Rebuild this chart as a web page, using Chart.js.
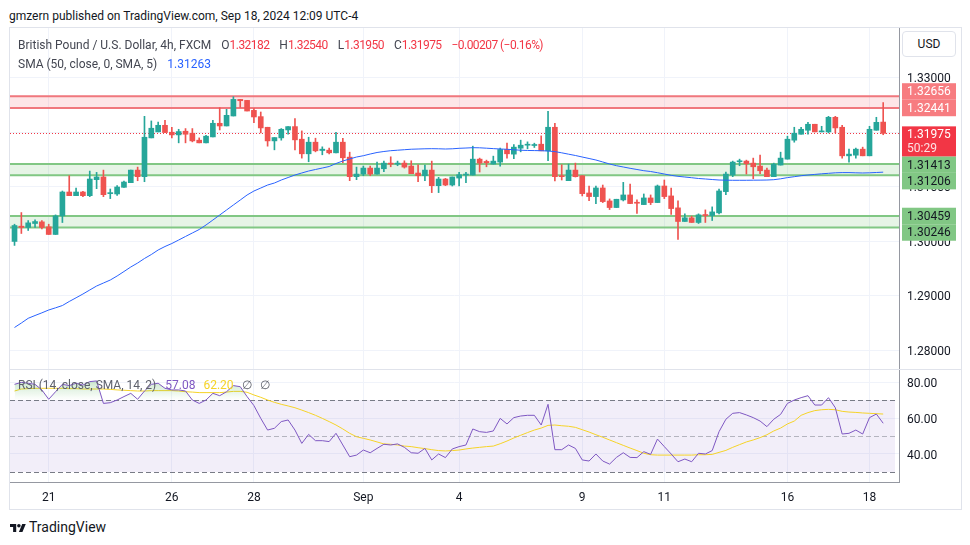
<!DOCTYPE html>
<html><head><meta charset="utf-8">
<script src="https://cdn.jsdelivr.net/npm/chart.js@4.4.1/dist/chart.umd.min.js"></script>
<style>
html,body{margin:0;padding:0;background:#fff;width:970px;height:545px;overflow:hidden;font-family:Roboto,"Noto Sans",sans-serif;color:#131722;}
.abs{position:absolute;}
#hdr{left:9px;top:7px;font-size:12px;line-height:18px;color:#131722;white-space:nowrap;}
#frame{left:9px;top:27px;width:953px;height:483px;border:1px solid #e0e3eb;box-sizing:border-box;}
#sep{left:10px;top:369px;width:951px;height:1px;background:#e0e3eb;}
#legend{left:18px;top:36px;font-size:12px;line-height:18.5px;color:#434651;white-space:nowrap;}
#legend .r{color:#f23645;letter-spacing:-0.55px;} #legend .b{color:#2962ff;}
#legend .g{margin-left:10px;}
#rsileg{left:18px;top:376px;font-size:12px;line-height:18px;color:#5d606b;white-space:nowrap;}
#usd{left:902px;top:31px;width:54px;height:26px;border:1px solid #e0e3eb;border-radius:4px;box-sizing:border-box;font-size:12px;line-height:24px;text-align:center;color:#131722;background:#fff;}
#logo{left:10px;top:518px;font-size:14px;line-height:18px;color:#131722;white-space:nowrap;display:flex;align-items:center;}
</style></head>
<body>
<div id="hdr" class="abs">gmzern published on TradingView.com, Sep 18, 2024 12:09 UTC-4</div>
<div id="frame" class="abs"></div>
<div class="abs" style="left:10px;top:28px;"><canvas id="main" width="951" height="341" style="width:951px;height:341px;display:block"></canvas></div>
<div id="sep" class="abs"></div>
<div class="abs" style="left:10px;top:370px;"><canvas id="rsi" width="951" height="139" style="width:951px;height:139px;display:block"></canvas></div>
<div id="legend" class="abs">
  <div>British Pound / U.S. Dollar, 4h, FXCM<span class="g">O<span class="r">1.32182</span></span><span class="g">H<span class="r">1.32540</span></span><span class="g">L<span class="r">1.31950</span></span><span class="g">C<span class="r">1.31975</span></span><span class="g r">&minus;0.00207 (&minus;0.16%)</span></div>
  <div>SMA (50, close, 0, SMA, 5)<span class="g b">1.31263</span></div>
</div>
<div id="rsileg" class="abs">RSI (14, close, SMA, 14, 2)<span style="margin-left:9px;color:#7e57c2">57.08</span><span style="margin-left:8px;color:#f5d327">62.20</span><span style="margin-left:8px">&empty;</span><span style="margin-left:8px">&empty;</span></div>
<div id="usd" class="abs">USD</div>
<div id="logo" class="abs"><svg width="16" height="11" viewBox="0 0 36 24" style="margin-right:3px"><path d="M14 22H7V11H0V4h14v18zM28 22h-8l7.5-18h8L28 22z" fill="#131722"/><circle cx="20" cy="8" r="4" fill="#131722"/></svg>TradingView</div>

<script>
// ---------- DATA ----------
const dateLabels = ['21','26','28','Sep','4','9','11','16','18'];
const dateTickIdx = [5, 23, 35, 51, 65, 83, 95, 113, 125];

const open = [1.29992,1.30272,1.30248,1.30321,1.30351,1.30260,1.30120,1.30461,1.30899,1.30832,
1.30899,1.30832,1.31125,1.31174,1.30869,1.30863,1.30985,1.31070,1.31301,1.31180,
1.31892,1.32002,1.32123,1.31996,1.31947,1.32014,1.31977,1.31850,1.31801,1.31910,
1.32160,1.32111,1.32294,1.32598,1.32580,1.32397,1.32282,1.32087,1.31837,1.31892,
1.32038,1.32099,1.31868,1.31600,1.31813,1.31661,1.31667,1.31618,1.31813,1.31539,
1.31180,1.31228,1.31338,1.31228,1.31326,1.31429,1.31411,1.31429,1.31375,1.31247,
1.31198,1.31301,1.31015,1.31137,1.31027,1.31155,1.31210,1.31210,1.31502,1.31460,
1.31411,1.31448,1.31679,1.31594,1.31703,1.31758,1.31752,1.31776,1.31655,1.32087,
1.31198,1.31107,1.31301,1.31198,1.30881,1.30815,1.30973,1.30735,1.30614,1.30754,
1.30845,1.30705,1.30668,1.30790,1.30705,1.31009,1.30827,1.30608,1.30358,1.30425,
1.30340,1.30480,1.30467,1.30516,1.30906,1.31210,1.31454,1.31466,1.31429,1.31375,
1.31301,1.31180,1.31393,1.31502,1.31850,1.31959,1.32032,1.32142,1.32002,1.32002,
1.32270,1.32087,1.31563,1.31575,1.31685,1.31563,1.32032,1.32182];
const high = [1.30308,1.30522,1.30375,1.30388,1.30375,1.30308,1.30479,1.30917,1.31198,1.30972,
1.30911,1.31283,1.31259,1.31301,1.30954,1.31015,1.31100,1.31301,1.31356,1.32288,
1.32203,1.32184,1.32215,1.32087,1.32050,1.32063,1.32063,1.31892,1.31941,1.32215,
1.32446,1.32416,1.32647,1.32598,1.32580,1.32428,1.32367,1.32087,1.31898,1.32063,
1.32099,1.32245,1.32020,1.31904,1.31886,1.31728,1.31703,1.31996,1.31886,1.31630,
1.31356,1.31375,1.31375,1.31448,1.31466,1.31545,1.31466,1.31472,1.31472,1.31399,
1.31393,1.31466,1.31168,1.31149,1.31174,1.31259,1.31259,1.31740,1.31521,1.31484,
1.31557,1.31703,1.31795,1.31770,1.31850,1.31819,1.31795,1.31929,1.32379,1.32160,
1.31399,1.31411,1.31429,1.31198,1.31009,1.31009,1.31027,1.30772,1.30766,1.31076,
1.31046,1.30754,1.30863,1.30845,1.31027,1.31119,1.30973,1.30735,1.30498,1.30455,
1.30498,1.30571,1.30626,1.30954,1.31265,1.31466,1.31502,1.31484,1.31521,1.31575,
1.31338,1.31429,1.31630,1.31923,1.32087,1.32087,1.32178,1.32142,1.32105,1.32288,
1.32288,1.32123,1.31685,1.31703,1.31722,1.32105,1.32270,1.32540];
const low = [1.29919,1.30138,1.30193,1.30248,1.30223,1.30120,1.30120,1.30339,1.30832,1.30832,
1.30814,1.30814,1.30960,1.30814,1.30778,1.30838,1.30985,1.31070,1.31106,1.31088,
1.31892,1.32002,1.31990,1.31892,1.31801,1.31801,1.31819,1.31801,1.31801,1.31910,
1.32038,1.32111,1.32294,1.32452,1.32385,1.32172,1.31983,1.31740,1.31673,1.31850,
1.31959,1.31673,1.31521,1.31454,1.31636,1.31582,1.31600,1.31618,1.31436,1.31107,
1.31125,1.31198,1.31198,1.31228,1.31271,1.31362,1.31381,1.31338,1.31235,1.31088,
1.31107,1.30888,1.30888,1.31015,1.31009,1.31009,1.31070,1.31210,1.31265,1.31362,
1.31411,1.31375,1.31521,1.31509,1.31636,1.31691,1.31716,1.31655,1.31472,1.31101,
1.31119,1.31107,1.31174,1.30827,1.30741,1.30687,1.30705,1.30577,1.30614,1.30735,
1.30687,1.30504,1.30668,1.30668,1.30705,1.30778,1.30486,1.30029,1.30358,1.30340,
1.30321,1.30340,1.30376,1.30498,1.30851,1.31180,1.31381,1.31228,1.31143,1.31235,
1.31180,1.31180,1.31393,1.31502,1.31813,1.31959,1.31959,1.32002,1.32002,1.31983,
1.31983,1.31521,1.31448,1.31521,1.31563,1.31563,1.32032,1.31950];
const close = [1.30284,1.30248,1.30333,1.30357,1.30248,1.30120,1.30461,1.30899,1.30832,1.30899,
1.30832,1.31137,1.31174,1.30850,1.30881,1.30991,1.31082,1.31301,1.31180,1.31904,
1.32069,1.32123,1.31990,1.31947,1.32008,1.31959,1.31837,1.31801,1.31923,1.32160,
1.32111,1.32306,1.32598,1.32574,1.32385,1.32276,1.32075,1.31837,1.31898,1.32050,
1.32099,1.31856,1.31600,1.31813,1.31655,1.31685,1.31618,1.31813,1.31527,1.31180,
1.31228,1.31338,1.31228,1.31338,1.31429,1.31411,1.31429,1.31356,1.31235,1.31198,
1.31301,1.31015,1.31137,1.31027,1.31174,1.31216,1.31228,1.31502,1.31429,1.31436,
1.31466,1.31679,1.31600,1.31722,1.31758,1.31776,1.31770,1.31655,1.32087,1.31180,
1.31180,1.31301,1.31180,1.30869,1.30815,1.30973,1.30723,1.30614,1.30766,1.30845,
1.30687,1.30693,1.30790,1.30705,1.31009,1.30815,1.30595,1.30358,1.30425,1.30340,
1.30480,1.30467,1.30534,1.30918,1.31228,1.31448,1.31466,1.31417,1.31362,1.31289,
1.31180,1.31411,1.31521,1.31868,1.31977,1.32050,1.32142,1.32002,1.32014,1.32270,
1.32075,1.31563,1.31594,1.31685,1.31563,1.32050,1.32178,1.31975];
const sma50 = [1.28413,1.28495,1.28582,1.28633,1.28682,1.28734,1.28774,1.28816,1.28890,1.28958,
1.29027,1.29101,1.29174,1.29229,1.29284,1.29358,1.29440,1.29523,1.29596,1.29679,
1.29752,1.29835,1.29899,1.29954,1.30018,1.30083,1.30147,1.30211,1.30294,1.30385,
1.30477,1.30569,1.30661,1.30752,1.30844,1.30917,1.30972,1.31027,1.31064,1.31119,
1.31165,1.31211,1.31248,1.31284,1.31312,1.31339,1.31367,1.31422,1.31468,1.31505,
1.31541,1.31565,1.31596,1.31624,1.31642,1.31657,1.31666,1.31675,1.31684,1.31688,
1.31692,1.31694,1.31692,1.31688,1.31692,1.31701,1.31706,1.31712,1.31710,1.31703,
1.31695,1.31688,1.31683,1.31673,1.31666,1.31661,1.31659,1.31657,1.31651,1.31640,
1.31618,1.31593,1.31569,1.31541,1.31514,1.31486,1.31450,1.31413,1.31382,1.31358,
1.31334,1.31312,1.31290,1.31275,1.31253,1.31229,1.31205,1.31187,1.31174,1.31161,
1.31147,1.31138,1.31128,1.31119,1.31116,1.31114,1.31114,1.31114,1.31116,1.31117,
1.31119,1.31125,1.31141,1.31163,1.31180,1.31198,1.31211,1.31222,1.31233,1.31242,
1.31251,1.31255,1.31255,1.31251,1.31248,1.31251,1.31257,1.31263];
const rsi = [78.7,79.8,79.3,78.7,75.6,70.4,74.6,78.7,78.0,79.3,
78.3,80.2,80.6,68.1,68.5,70.0,71.9,73.7,70.4,75.0,
78.7,79.3,76.5,75.6,75.6,75.0,70.0,68.1,70.0,73.7,
72.4,74.6,78.0,77.4,71.9,66.9,59.8,53.3,54.3,58.0,
58.9,53.3,45.9,50.9,47.4,47.4,46.9,51.5,45.0,38.5,
39.4,42.2,40.7,43.1,45.4,45.0,45.6,43.7,40.7,40.4,
43.1,36.7,40.0,38.0,42.8,44.1,45.0,53.9,52.4,52.0,
52.8,59.8,56.7,60.2,61.1,61.5,61.5,56.1,67.6,42.4,
42.4,45.0,43.1,36.7,36.1,40.0,36.1,34.4,38.1,40.7,
38.1,38.0,41.3,39.8,48.3,44.1,40.0,35.7,37.2,35.7,
40.4,40.0,41.9,52.4,59.3,62.6,63.0,61.7,60.2,58.3,
55.2,59.3,62.0,68.1,70.0,71.3,72.4,67.2,67.2,71.3,
65.7,51.1,51.5,53.3,51.1,60.2,62.2,57.08];
const rsiMa = [75.0,76.1,76.3,76.5,76.5,76.5,76.5,76.5,76.3,76.3,
76.1,76.1,76.1,76.1,75.9,75.6,75.4,75.2,75.0,75.0,
75.2,75.2,75.2,75.2,75.0,74.6,74.4,74.1,74.1,74.1,
74.1,74.4,74.8,74.8,74.3,72.8,71.5,70.0,68.7,67.6,
66.7,65.7,64.4,63.0,61.5,59.8,58.0,56.1,53.9,51.5,
49.6,48.7,47.8,46.7,45.6,45.4,45.0,44.4,44.1,43.5,
43.0,42.4,41.9,41.7,41.9,42.2,42.8,43.3,43.7,44.1,
44.4,45.7,47.2,48.9,50.4,51.9,53.3,54.4,55.9,56.1,
55.7,55.4,54.8,53.5,52.2,50.7,49.3,47.8,46.3,44.8,
43.3,41.9,40.4,39.6,39.4,39.4,39.4,39.4,39.4,39.4,
39.6,39.6,39.8,40.9,42.0,43.7,45.2,46.7,47.8,49.1,
50.7,52.8,54.4,56.7,58.3,61.5,63.0,64.1,64.6,64.8,
64.6,63.7,63.3,63.1,62.8,62.6,62.4,62.2];

const priceTicks = [1.28, 1.29, 1.30, 1.31, 1.32, 1.33];
const rsiTicks = [40, 60, 80];
const rsiLevels = [70, 50, 30];
const zoneHigh = [1.32656, 1.31413, 1.30459];
const zoneLow  = [1.32441, 1.31206, 1.30246];
const zoneKind = ['res', 'sup', 'sup'];
const countdown = '50:29';

// ---------- STYLE ----------
const UP = '#26a69a', DOWN = '#ef5350';
const X_MIN = -0.66, X_MAX = 129.31;
const Y_MIN = 1.276514, Y_MAX = 1.339083;
const R_MIN = 24.444, R_MAX = 86.667;
const AXIS_W = 62;
const GRID = '#f0f3fa';
const FONT = {family: 'Roboto, "Noto Sans", sans-serif', size: 12};
Chart.defaults.font.family = FONT.family;

const idx = close.map((_, i) => i);
const candleColor = idx.map(i => close[i] >= open[i] ? UP : DOWN);

const xScaleBase = {
  type: 'linear', min: X_MIN, max: X_MAX, offset: false,
  grid: {color: GRID, drawTicks: false, offset: false},
  afterBuildTicks: s => { s.ticks = dateTickIdx.map(v => ({value: v})); }
};

const zonesPlugin = {
  id: 'zones',
  beforeDatasetsDraw(chart) {
    const {ctx, chartArea: a, scales: {y}} = chart;
    ctx.save();
    zoneHigh.forEach((hi, k) => {
      const t = y.getPixelForValue(hi), b = y.getPixelForValue(zoneLow[k]);
      const res = zoneKind[k] === 'res';
      ctx.fillStyle = res ? 'rgba(242,54,69,0.13)' : 'rgba(76,175,80,0.14)';
      ctx.fillRect(a.left, t, a.right - a.left, b - t);
      ctx.strokeStyle = res ? '#f0777d' : '#81c784';
      ctx.lineWidth = 2;
      ctx.beginPath();
      ctx.moveTo(a.left, t); ctx.lineTo(a.right, t);
      ctx.moveTo(a.left, b); ctx.lineTo(a.right, b);
      ctx.stroke();
    });
    const last = close[close.length - 1];
    const py = Math.round(y.getPixelForValue(last)) + 0.5;
    ctx.strokeStyle = '#f23645'; ctx.lineWidth = 1; ctx.setLineDash([1, 2]);
    ctx.beginPath(); ctx.moveTo(a.left, py); ctx.lineTo(a.right, py); ctx.stroke();
    ctx.restore();
  }
};

const labelsPlugin = {
  id: 'axisLabels',
  afterDraw(chart) {
    const {ctx, scales: {y}} = chart;
    const H = 16.5, x0 = y.left + 3, w = 54;
    const last = close[close.length - 1];
    const ly = y.getPixelForValue(last);
    const cur = {top: ly - 7, h: 30};
    const items = [];
    zoneHigh.forEach((hi, k) => {
      const res = zoneKind[k] === 'res';
      [hi, zoneLow[k]].forEach(v => items.push({v, y: y.getPixelForValue(v),
        bg: res ? '#f77c80' : '#81c784', fg: res ? '#ffffff' : '#131722'}));
    });
    const above = items.filter(it => it.y < ly).sort((a, b) => b.y - a.y);
    let lim = cur.top;
    above.forEach(it => { let t = it.y - H / 2; if (t + H > lim) t = lim - H; it.top = t; lim = t; });
    const below = items.filter(it => it.y >= ly).sort((a, b) => a.y - b.y);
    lim = cur.top + cur.h;
    below.forEach(it => { let t = it.y - H / 2; if (t < lim) t = lim; it.top = t; lim = t + H; });
    ctx.save();
    ctx.font = '12px ' + FONT.family;
    ctx.textBaseline = 'middle'; ctx.textAlign = 'left';
    items.forEach(it => {
      ctx.fillStyle = it.bg; ctx.fillRect(x0, it.top, w, H);
      ctx.fillStyle = it.fg; ctx.fillText(it.v.toFixed(5), y.left + 8, it.top + H / 2 + 1);
    });
    ctx.fillStyle = '#f23645'; ctx.fillRect(x0, cur.top, w, cur.h);
    ctx.fillStyle = '#ffffff';
    ctx.fillText(last.toFixed(5), y.left + 8, cur.top + 8.5);
    ctx.fillStyle = 'rgba(255,255,255,0.85)';
    ctx.fillText(countdown, y.left + 8, cur.top + 22.5);
    ctx.restore();
  }
};

new Chart(document.getElementById('main'), {
  type: 'bar',
  data: {
    datasets: [
      {type: 'line', data: idx.map(i => ({x: i, y: sma50[i]})), borderColor: '#2962ff', borderWidth: 1,
       pointRadius: 0, tension: 0, fill: false},
      {type: 'bar', data: idx.map(i => ({x: i, y: [open[i], close[i]]})), backgroundColor: candleColor,
       barThickness: 5, grouped: false, minBarLength: 1, borderWidth: 0},
      {type: 'bar', data: idx.map(i => ({x: i, y: [low[i], high[i]]})), backgroundColor: candleColor,
       barThickness: 1, grouped: false, borderWidth: 0}
    ]
  },
  options: {
    responsive: false, animation: false, events: [],
    layout: {padding: 0},
    plugins: {legend: {display: false}, tooltip: {enabled: false}},
    scales: {
      x: Object.assign({}, xScaleBase, {
        ticks: {display: false}, border: {display: false},
        afterFit: s => { s.height = 0; s.paddingLeft = 0; s.paddingRight = 0; }
      }),
      y: {
        type: 'linear', position: 'right', min: Y_MIN, max: Y_MAX,
        grid: {color: GRID, drawTicks: false}, border: {display: true, color: '#9598a1'},
        ticks: {padding: 8, labelOffset: 1.5, color: '#131722', font: FONT, callback: v => Number(v).toFixed(5)},
        afterBuildTicks: s => { s.ticks = priceTicks.map(v => ({value: v})); },
        afterFit: s => { s.width = AXIS_W; s.paddingTop = 0; s.paddingBottom = 0; }
      }
    }
  },
  plugins: [zonesPlugin, labelsPlugin]
});

const rsiBandPlugin = {
  id: 'rsiBand',
  beforeDatasetsDraw(chart) {
    const {ctx, chartArea: a, scales: {y}} = chart;
    const t = y.getPixelForValue(rsiLevels[0]), b = y.getPixelForValue(rsiLevels[2]);
    ctx.save();
    ctx.fillStyle = 'rgba(126,87,194,0.1)';
    ctx.fillRect(a.left, t, a.right - a.left - 4, b - t);
    ctx.lineWidth = 1; ctx.setLineDash([5, 3]);
    rsiLevels.forEach((lv, k) => {
      const py = Math.round(y.getPixelForValue(lv)) + 0.5;
      ctx.strokeStyle = k === 1 ? 'rgba(120,123,134,0.5)' : '#787b86';
      ctx.beginPath(); ctx.moveTo(a.left, py); ctx.lineTo(a.right - 4, py); ctx.stroke();
    });
    ctx.restore();
  }
};

new Chart(document.getElementById('rsi'), {
  type: 'line',
  data: {
    datasets: [
      {data: idx.map(i => ({x: i, y: rsi[i]})), borderColor: '#7e57c2', borderWidth: 1, pointRadius: 0, tension: 0,
       backgroundColor: (c) => {
         const ch = c.chart; const s = ch.scales && ch.scales.y;
         if (!ch.chartArea || !s) return 'rgba(76,175,80,0.15)';
         const g = ch.ctx.createLinearGradient(0, s.getPixelForValue(82), 0, s.getPixelForValue(70));
         g.addColorStop(0, 'rgba(76,175,80,0.32)');
         g.addColorStop(1, 'rgba(76,175,80,0.0)');
         return g;
       },
       fill: {target: {value: 70}, below: 'rgba(0,0,0,0)'}},
      {data: idx.map(i => ({x: i, y: rsiMa[i]})), borderColor: '#f5d327', borderWidth: 1, pointRadius: 0, tension: 0, fill: false}
    ]
  },
  options: {
    responsive: false, animation: false, events: [],
    layout: {padding: 0},
    plugins: {legend: {display: false}, tooltip: {enabled: false}},
    scales: {
      x: Object.assign({}, xScaleBase, {
        border: {display: true, color: '#9598a1'},
        ticks: {padding: 9, color: '#131722', font: FONT, maxRotation: 0, minRotation: 0, autoSkip: false,
                callback: (v, i) => dateLabels[i]},
        afterFit: s => { s.height = 27; s.paddingLeft = 0; s.paddingRight = 0; }
      }),
      y: {
        type: 'linear', position: 'right', min: R_MIN, max: R_MAX,
        grid: {color: GRID, drawTicks: false}, border: {display: true, color: '#9598a1'},
        ticks: {padding: 8, labelOffset: 2, color: '#131722', font: FONT, callback: v => Number(v).toFixed(2)},
        afterBuildTicks: s => { s.ticks = rsiTicks.map(v => ({value: v})); },
        afterFit: s => { s.width = AXIS_W; s.paddingTop = 0; s.paddingBottom = 0; }
      }
    }
  },
  plugins: [rsiBandPlugin]
});
</script>
</body></html>
